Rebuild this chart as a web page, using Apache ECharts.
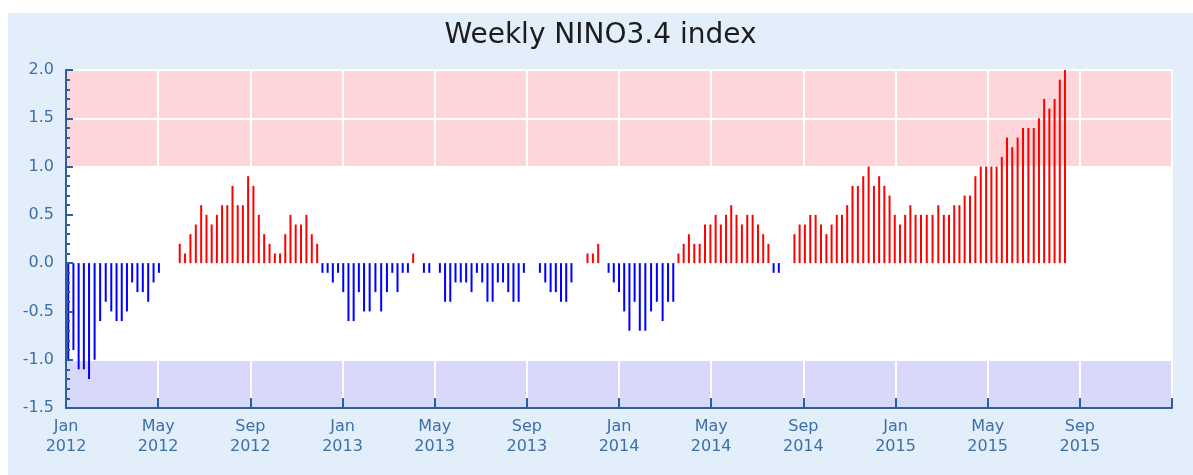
<!DOCTYPE html>
<html>
<head>
<meta charset="utf-8">
<script src="https://cdn.jsdelivr.net/npm/echarts@6/dist/echarts.min.js"></script>
<style>
  html, body { margin: 0; padding: 0; background: #ffffff; }
  #chart { position: absolute; left: 8px; top: 13px; width: 1185px; height: 462px; background: #e2eef9; }
</style>
</head>
<body>
<div id="chart"></div>
<script>
// weekly values, one bar per week, first week centred on 4 Jan 2012
const firstWeek = '2012-01-04';
const weeks2012 = [
  -1.0, -0.9, -1.1, -1.1, -1.2, -1.0, -0.6, -0.4, -0.5, -0.6, -0.6, -0.5, -0.2, -0.3, -0.3, -0.4, -0.2, -0.1,
  0, 0, 0,
  0.2, 0.1, 0.3, 0.4, 0.6, 0.5, 0.4, 0.5, 0.6, 0.6, 0.8, 0.6, 0.6, 0.9, 0.8, 0.5, 0.3, 0.2, 0.1, 0.1,
  0.3, 0.5, 0.4, 0.4, 0.5, 0.3, 0.2,
  -0.1, -0.1, -0.2, -0.1
];
const weeks2013 = [
  -0.3, -0.6, -0.6, -0.3, -0.5, -0.5, -0.3, -0.5, -0.3, -0.1, -0.3, -0.1, -0.1,
  0.1, 0, -0.1, -0.1, 0, -0.1, -0.4, -0.4,
  -0.2, -0.2, -0.2, -0.3, -0.1, -0.2, -0.4, -0.4, -0.2, -0.2, -0.3, -0.4, -0.4, -0.1,
  0, 0,
  -0.1, -0.2, -0.3, -0.3, -0.4, -0.4, -0.2,
  0, 0, 0.1, 0.1, 0.2, 0, -0.1, -0.2
];
const weeks2014 = [
  -0.3, -0.5, -0.7, -0.4, -0.7, -0.7, -0.5, -0.4, -0.6, -0.4, -0.4,
  0.1, 0.2, 0.3, 0.2, 0.2, 0.4, 0.4, 0.5, 0.4, 0.5, 0.6, 0.5, 0.4, 0.5, 0.5, 0.4, 0.3, 0.2,
  -0.1, -0.1, 0, 0,
  0.3, 0.4, 0.4, 0.5, 0.5, 0.4, 0.3, 0.4, 0.5, 0.5, 0.6, 0.8, 0.8, 0.9, 1.0, 0.8, 0.9, 0.8, 0.7, 0.5
];
const weeks2015 = [
  0.4, 0.5, 0.6, 0.5, 0.5,
  0.5, 0.5, 0.6, 0.5, 0.5, 0.6, 0.6, 0.7, 0.7, 0.9, 1.0, 1.0, 1.0, 1.0, 1.1, 1.3, 1.2, 1.3,
  1.4, 1.4, 1.4, 1.5, 1.7, 1.6, 1.7, 1.9, 2.0
];
const monthNames = ['Jan', 'Feb', 'Mar', 'Apr', 'May', 'Jun', 'Jul', 'Aug', 'Sep', 'Oct', 'Nov', 'Dec'];
const startYear = 2012;
const yTicks = [-1.5, -1.0, -0.5, 0.0, 0.5, 1.0, 1.5, 2.0];

// months since Jan of startYear, with fraction for the day
const monthPos = (d) => {
  const y = d.getUTCFullYear();
  const m = d.getUTCMonth();
  const dim = new Date(Date.UTC(y, m + 1, 0)).getUTCDate();
  return (y - startYear) * 12 + m + (d.getUTCDate() - 1) / dim;
};

const allWeeks = weeks2012.concat(weeks2013, weeks2014, weeks2015);
const t0 = new Date(firstWeek + 'T00:00:00Z').getTime();
const barData = allWeeks.map((v, i) => [monthPos(new Date(t0 + i * 7 * 86400000)), v]);

const axisBlue = '#2b5f9e';
const labelBlue = '#3d70a9';
const xScale = { type: 'value', min: 0, max: 48, interval: 4 };
const yScale = { type: 'value', min: yTicks[0], max: yTicks[yTicks.length - 1], interval: 0.5 };

const chart = echarts.init(document.getElementById('chart'), null, { renderer: 'canvas' });
chart.setOption({
  backgroundColor: 'transparent',
  animation: false,
  title: {
    text: 'Weekly NINO3.4 index',
    left: 'center',
    top: 4,
    textStyle: { fontFamily: 'DejaVu Sans', fontSize: 28, fontWeight: 'normal', color: '#1c1c1c' }
  },
  grid: { left: 58, right: 21, top: 57, bottom: 67 },
  xAxis: [
    // grid lines only, drawn over the bands
    Object.assign({}, xScale, {
      z: 1,
      axisLine: { show: false },
      axisTick: { show: false },
      axisLabel: { show: false },
      splitLine: { show: true, showMinLine: false, lineStyle: { color: '#ffffff', width: 2 } }
    }),
    Object.assign({}, xScale, {
      position: 'bottom',
      z: 4,
      axisLine: { onZero: false, lineStyle: { color: axisBlue, width: 2 } },
      axisTick: { inside: true, length: 10, lineStyle: { color: axisBlue, width: 2 } },
      axisLabel: {
        margin: 9,
        fontFamily: 'DejaVu Sans',
        fontSize: 16,
        lineHeight: 20,
        color: labelBlue,
        formatter: (v) => {
          if (v >= 48) { return ''; }
          return monthNames[v % 12] + '\n' + (startYear + Math.floor(v / 12));
        }
      },
      splitLine: { show: false }
    })
  ],
  yAxis: [
    // bands and horizontal grid lines
    Object.assign({}, yScale, {
      z: 0,
      axisLine: { show: false },
      axisTick: { show: false },
      axisLabel: { show: false },
      splitLine: { show: true, lineStyle: { color: '#ffffff', width: 2 } },
      splitArea: {
        show: true,
        areaStyle: { color: ['#d8d8fb', '#ffffff', '#ffffff', '#ffffff', '#ffffff', '#fed5d8', '#fed5d8'] }
      }
    }),
    Object.assign({}, yScale, {
      position: 'left',
      z: 4,
      axisLine: { show: true, onZero: false, lineStyle: { color: axisBlue, width: 2 } },
      axisTick: { show: true, inside: true, length: 7, lineStyle: { color: axisBlue, width: 2 } },
      minorTick: { show: true, splitNumber: 5, length: 4, lineStyle: { color: axisBlue, width: 2 } },
      axisLabel: {
        margin: 12,
        fontFamily: 'DejaVu Sans',
        fontSize: 16,
        color: labelBlue,
        formatter: (v) => v.toFixed(1)
      },
      splitLine: { show: false },
      splitArea: { show: false }
    })
  ],
  series: [
    {
      type: 'bar',
      xAxisIndex: 0,
      yAxisIndex: 0,
      barWidth: 2,
      z: 3,
      data: barData,
      itemStyle: {
        color: (p) => (p.value[1] >= 0 ? '#ff0000' : '#0000ff')
      }
    }
  ]
});
</script>
</body>
</html>
